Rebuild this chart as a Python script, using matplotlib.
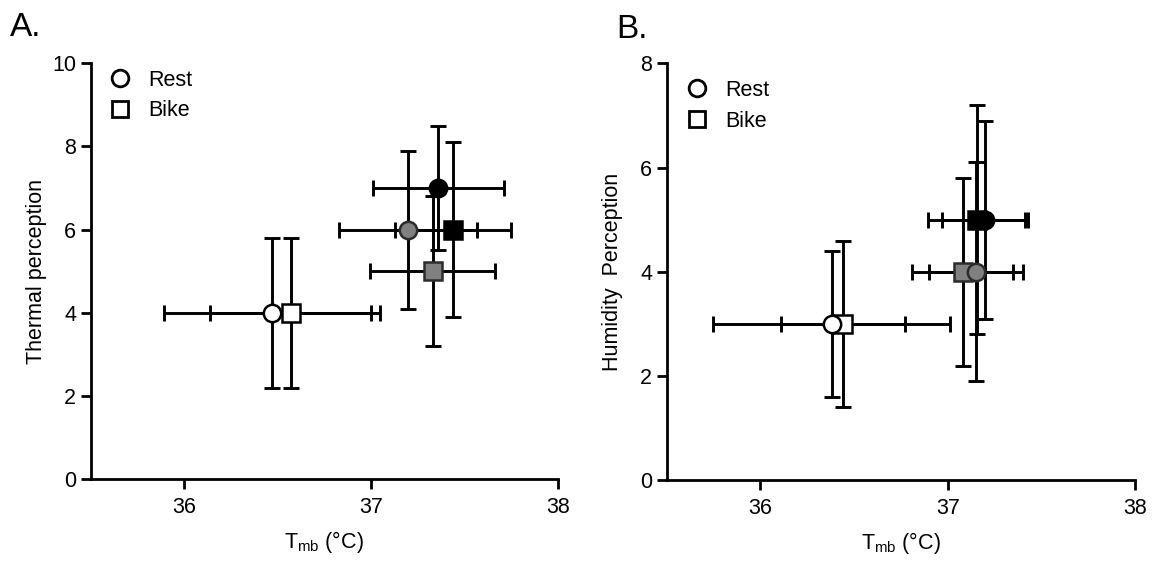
import matplotlib
matplotlib.use("Agg")
import matplotlib.pyplot as plt
from matplotlib.lines import Line2D

plt.rcParams['font.family'] = ['Liberation Sans', 'DejaVu Sans']

# marker fills for the three conditions (white, grey, black)
FILLS = ['white', '#808080', 'black']
EDGES = ['black', '#2b2b2b', 'black']

# Panel A - Thermal perception
a_rest_x = [36.47, 37.20, 37.36]
a_rest_y = [4, 6, 7]
a_rest_xerr = [0.58, 0.37, 0.35]
a_rest_yerr = [1.8, 1.9, 1.5]

a_bike_x = [36.57, 37.33, 37.44]
a_bike_y = [4, 5, 6]
a_bike_xerr = [0.43, 0.335, 0.31]
a_bike_yerr = [1.8, 1.8, 2.1]

# Panel B - Humidity perception
b_rest_x = [36.38, 37.15, 37.20]
b_rest_y = [3, 4, 5]
b_rest_xerr = [0.63, 0.25, 0.23]
b_rest_yerr = [1.4, 2.1, 1.9]

b_bike_x = [36.44, 37.08, 37.155]
b_bike_y = [3, 4, 5]
b_bike_xerr = [0.33, 0.27, 0.26]
b_bike_yerr = [1.6, 1.8, 2.2]

x_ticks = [36, 37, 38]
a_yticks = [0, 2, 4, 6, 8, 10]
b_yticks = [0, 2, 4, 6, 8]

FS = 15.5
LW = 2.0


def draw_series(ax, xs, ys, xerr, yerr, marker):
    for i in range(len(xs)):
        ax.errorbar(xs[i], ys[i], xerr=xerr[i], yerr=yerr[i], fmt='none',
                    ecolor='black', elinewidth=2.1, capsize=5.5, capthick=2.1,
                    zorder=2)
    for i in range(len(xs)):
        ax.plot(xs[i], ys[i], marker=marker, markersize=12.5,
                markerfacecolor=FILLS[i], markeredgecolor=EDGES[i],
                markeredgewidth=1.8, linestyle='none', zorder=3)


def style_axes(ax, yticks, ylabel, leg_x, leg_y):
    ax.set_xlim(35.5, 38)
    ax.set_ylim(0, yticks[-1])
    ax.set_xticks(x_ticks)
    ax.set_yticks(yticks)
    for s in ['top', 'right']:
        ax.spines[s].set_visible(False)
    for s in ['left', 'bottom']:
        ax.spines[s].set_linewidth(LW)
    ax.tick_params(direction='out', length=7.5, width=LW, labelsize=FS)
    ax.tick_params(axis='x', pad=5)
    ax.tick_params(axis='y', pad=3)
    ax.set_xlabel(r'$\mathregular{T_{mb}}$ (°C)', fontsize=FS, labelpad=8)
    ax.set_ylabel(ylabel, fontsize=FS)
    ax.yaxis.set_label_coords(-0.093, 0.5)
    handles = [
        Line2D([], [], marker='o', markersize=12, markerfacecolor='white',
               markeredgecolor='black', markeredgewidth=2.0, linestyle='none'),
        Line2D([], [], marker='s', markersize=11.5, markerfacecolor='white',
               markeredgecolor='black', markeredgewidth=2.0, linestyle='none'),
    ]
    ax.legend(handles, ['Rest', 'Bike'], loc='upper left', frameon=False,
              fontsize=FS, bbox_to_anchor=(leg_x, leg_y), handletextpad=0.5,
              labelspacing=0.45, borderaxespad=0.0, handlelength=1.6,
              borderpad=0.0)


fig = plt.figure(figsize=(11.53, 5.63), dpi=100)
ax_a = fig.add_axes([0.0787, 0.1487, 0.405, 0.7389])
ax_b = fig.add_axes([0.5782, 0.1469, 0.4062, 0.7407])

draw_series(ax_a, a_bike_x, a_bike_y, a_bike_xerr, a_bike_yerr, 's')
draw_series(ax_a, a_rest_x, a_rest_y, a_rest_xerr, a_rest_yerr, 'o')
style_axes(ax_a, a_yticks, 'Thermal perception', 0.026, 0.985)

draw_series(ax_b, b_bike_x, b_bike_y, b_bike_xerr, b_bike_yerr, 's')
draw_series(ax_b, b_rest_x, b_rest_y, b_rest_xerr, b_rest_yerr, 'o')
style_axes(ax_b, b_yticks, 'Humidity  Perception', 0.028, 0.96)

fig.text(10 / 1153, 1 - 36 / 563, 'A.', fontsize=24, ha='left', va='baseline')
fig.text(616 / 1153, 1 - 38 / 563, 'B.', fontsize=24, ha='left', va='baseline')

fig.savefig('out.png', dpi=100, facecolor='white')
